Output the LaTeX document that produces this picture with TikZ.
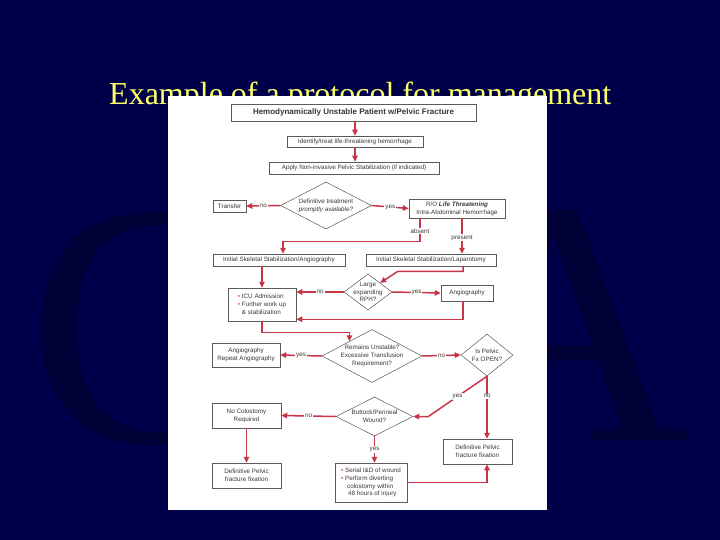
\documentclass[tikz,border=0pt]{standalone}
\usepackage{fontspec}
\setmainfont{Liberation Serif}
\setsansfont{Liberation Sans}
\usetikzlibrary{arrows.meta,shapes.geometric,calc}
\definecolor{slidenavy}{RGB}{0,0,74}
\definecolor{shadenavy}{RGB}{0,0,54}
\definecolor{titleyellow}{RGB}{255,255,102}
\definecolor{flowred}{RGB}{200,52,72}
\definecolor{boxgray}{RGB}{90,90,90}
\definecolor{inkgray}{RGB}{55,55,55}
\newcommand\flowfont{\sffamily\fontsize{6.3}{7.8}\selectfont}
\newcommand\redbullet{{\color{flowred}\textbullet}~}

\begin{document}
\begin{tikzpicture}[x=1pt, y=-1pt, >={Triangle[length=6pt, width=5.5pt]},
    box/.style={draw=boxgray, fill=white, line width=0.5pt, inner sep=1pt, font=\flowfont, text=inkgray, align=center},
    dec/.style={diamond, draw=boxgray, fill=white, line width=0.5pt, inner sep=0pt},
    dtxt/.style={font=\flowfont, text=inkgray, align=center},
    link/.style={draw=flowred, line width=1.5pt, ->},
    lab/.style={fill=white, inner sep=1pt, font=\flowfont, text=inkgray}]
    % slide background
    \useasboundingbox (0,0) rectangle (720,540);
    \fill[slidenavy] (0,0) rectangle (720,540);
    \node[font=\fontsize{348}{348}\selectfont, text=shadenavy, anchor=base west, inner sep=0pt] (bigC) at (27,442) {C};
    \node[font=\fontsize{348}{348}\selectfont, text=shadenavy, anchor=base east, inner sep=0pt] (bigA) at (690,440) {A};
    \node[font=\fontsize{32}{38}\selectfont, text=titleyellow, anchor=base west, inner sep=0pt] (title) at (109,105) {Example of a protocol for management};
    \fill[white] (168,96) rectangle (547,510);

    % flowchart
    \node[box, font=\sffamily\bfseries\fontsize{8}{9}\selectfont, minimum width=245pt, minimum height=17pt] (patient) at (353.5,112.5) {Hemodynamically Unstable Patient w/Pelvic Fracture};
    \node[box, minimum width=136pt, minimum height=11pt] (identify) at (355,141.5) {Identify/treat life-threatening hemorrhage};
    \node[box, minimum width=170pt, minimum height=12pt] (apply) at (354,168) {Apply Non-invasive Pelvic Stabilization (if indicated)};
    \node[dec, minimum width=91pt, minimum height=47pt, label={[dtxt]center:{Definitive treatment\\\textit{promptly available?}}}] (definitive) at (326,205.5) {};
    \node[box, minimum width=33pt, minimum height=12pt] (transfer) at (229.5,206) {Transfer};
    \node[box, minimum width=96pt, minimum height=19pt] (rule) at (457,208.5) {R/O \textbf{\textit{Life Threatening}}\\Intra-Abdominal Hemorrhage};
    \node[box, minimum width=132pt, minimum height=12pt] (skelangio) at (279,260) {Initial Skeletal Stabilization/Angiography};
    \node[box, minimum width=130pt, minimum height=12pt] (skellap) at (431,260) {Initial Skeletal Stabilization/Laparotomy};
    \node[dec, minimum width=48pt, minimum height=36pt, label={[dtxt]center:{Large\\expanding\\RPH?}}] (rph) at (368,292) {};
    \node[box, minimum width=68pt, minimum height=33pt, align=left] (icu) at (262,304.5) {\redbullet ICU Admission\\\redbullet Further work up\\\hspace{4pt}\& stabilization};
    \node[box, minimum width=52pt, minimum height=16pt] (angio) at (467,293) {Angiography};
    \node[dec, minimum width=100pt, minimum height=53pt, label={[dtxt]center:{Remains Unstable?\\Excessive Transfusion\\Requirement?}}] (remains) at (372,356) {};
    \node[box, minimum width=68pt, minimum height=24pt] (repeat) at (246,355) {Angiography\\Repeat Angiography};
    \node[dec, minimum width=52pt, minimum height=42pt, label={[dtxt]center:{Is Pelvic\\Fx OPEN?}}] (open) at (487,355) {};
    \node[dec, minimum width=77pt, minimum height=39pt, label={[dtxt]center:{Buttock/Perineal\\Wound?}}] (buttock) at (374.5,416.5) {};
    \node[box, minimum width=69pt, minimum height=25pt] (nocolost) at (246.5,415.5) {No Colostomy\\Required};
    \node[box, minimum width=69pt, minimum height=25pt] (fixleft) at (246.5,475.5) {Definitive Pelvic\\fracture fixation};
    \node[box, minimum width=72pt, minimum height=39pt, align=left] (serial) at (371,482.5) {\redbullet Serial I\&D of wound\\\redbullet Perform diverting\\\hspace{6pt}colostomy within\\\hspace{7pt}48 hours of injury};
    \node[box, minimum width=69pt, minimum height=25pt] (fixright) at (477.5,451.5) {Definitive Pelvic\\fracture fixation};

    % connectors
    \draw[link] (identify.north |- patient.south) -- (identify.north);
    \draw[link] (identify.south) -- (identify.south |- apply.north);
    \draw[link] (definitive.west) -- node[lab]{no} (transfer.east);
    \draw[link] (definitive.east) -- node[lab]{yes} (rule.west);
    \draw[link] ([xshift=-37pt]rule.south) -- node[lab, pos=0.55]{absent} ++(0,23) -| ([xshift=4pt]skelangio.north);
    \draw[link] ([xshift=5pt]rule.south) -- node[lab, pos=0.55]{present} ([xshift=5pt]rule.south |- skellap.north);
    \draw[link] (icu.north |- skelangio.south) -- (icu.north);
    \draw[link] ([xshift=32pt]skellap.south) -- ++(0,5) -- ++(-65,0) -- ($(rph.north)!0.5!(rph.east)$);
    \draw[link] (rph.west) -- node[lab]{no} (rph.west -| icu.east);
    \draw[link] (rph.east) -- node[lab]{yes} (angio.west);
    \draw[link] ([xshift=-4pt]angio.south) |- ([yshift=2pt]icu.south east);
    \draw[link] (icu.south) -- ++(0,11) -| ($(remains.west)!0.55!(remains.north)$);
    \draw[link] (remains.west) -- node[lab]{yes} (repeat.east);
    \draw[link] (remains.east) -- node[lab]{no} (open.west);
    \draw[link] (open.south) -- node[lab]{yes} ++(-59,40.5) -- (buttock.east);
    \draw[link] (open.south) -- node[lab, pos=0.32]{no} (open.south |- fixright.north);
    \draw[link] (buttock.west) -- node[lab]{no} (nocolost.east);
    \draw[link] (buttock.south) -- node[lab]{yes} (buttock.south |- serial.north);
    \draw[link] (nocolost.south) -- (fixleft.north);
    \draw[link] (serial.east) -| (open.south |- fixright.south);
\end{tikzpicture}
\end{document}
